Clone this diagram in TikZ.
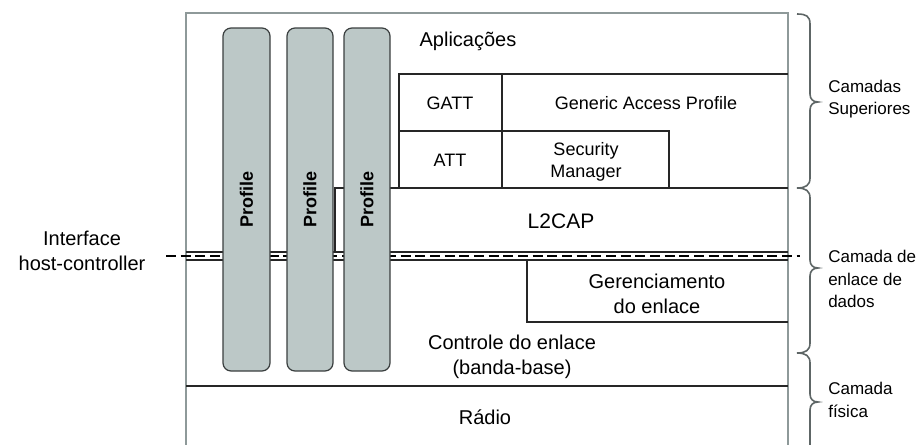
\documentclass[tikz,border=0pt]{standalone}
\usepackage{fontspec}
\setmainfont{Liberation Sans}
\definecolor{framegrey}{HTML}{8E9999}
\definecolor{bracegrey}{HTML}{5E6666}
\definecolor{profilefill}{HTML}{BCC8C7}
\definecolor{profileline}{HTML}{3A3F3F}
\begin{document}
\begin{tikzpicture}[x=0.75pt,y=-0.75pt,
  frame/.style={draw=framegrey,line width=1.5pt},
  boxline/.style={draw=black!85,line width=0.9pt},
  hcdash/.style={draw=black,line width=0.9pt,dash pattern=on 7.5pt off 3.5pt},
  profile/.style={draw=profileline,fill=profilefill,line width=0.9pt,rounded corners=6pt},
  proflabel/.style={rotate=90,font=\fontsize{13.5}{16}\selectfont\bfseries},
  lbl/.style={font=\fontsize{13.5}{16.5}\selectfont,align=center,inner sep=0pt},
  biglbl/.style={font=\fontsize{15}{18.75}\selectfont,align=center,inner sep=0pt},
  sidelbl/.style={font=\fontsize{12.75}{17}\selectfont,align=left,anchor=west,inner sep=0pt},
  bracepath/.style={draw=bracegrey,line width=1.2pt}
]
\useasboundingbox (0,0) rectangle (917,444);

% outer frame of the stack
\draw[frame] (186,450) -- (186,13) -- (788,13) -- (788,450);

% host / controller split with the interface line
\draw[boxline] (186,252) -- (788,252);
\draw[boxline] (186,260) -- (788,260);
\draw[hcdash] (166,256) -- (800,256);

% GATT / ATT / GAP / Security Manager block
\draw[boxline] (399,188) -- (399,74) -- (788,74);
\draw[boxline] (502,74) -- (502,188);
\draw[boxline] (399,131) -- (669,131) -- (669,188);

% L2CAP
\draw[boxline] (335,252) -- (335,188) -- (788,188);

% link manager
\draw[boxline] (527,260) -- (527,322) -- (788,322);

% baseband / radio split
\draw[boxline] (186,386) -- (788,386);

% profile columns
\draw[profile] (223,28) rectangle (270,371);
\draw[profile] (287,28) rectangle (333,371);
\draw[profile] (344,28) rectangle (390,371);
\node[proflabel] (prof1) at (246.5,199) {Profile};
\node[proflabel] (prof2) at (310,199) {Profile};
\node[proflabel] (prof3) at (367,199) {Profile};

% texts of the blocks
\node[biglbl] (apps) at (468,41) {Aplicações};
\node[lbl] (gatt) at (450,103) {GATT};
\node[lbl] (gap) at (646,103) {Generic Access Profile};
\node[lbl] (att) at (450,160) {ATT};
\node[lbl] (sm) at (586,162) {Security\\Manager};
\node[font=\fontsize{15.75}{18}\selectfont,inner sep=0pt] (l2cap) at (561,221) {L2CAP};
\node[biglbl] (lm) at (657,293.5) {Gerenciamento\\do enlace};
\node[biglbl] (ll) at (512,357) {Controle do enlace\\(banda-base)};
\node[biglbl] (radio) at (485,417) {Rádio};
\node[biglbl] (hci) at (82,251) {Interface\\host-controller};

% layer braces
\draw[bracepath] (797,14) .. controls (806,14) and (810,16) .. (810,24)
  -- (810,94) .. controls (810,99) and (813,102) .. (818,102)
  .. controls (813,102) and (810,105) .. (810,110)
  -- (810,178) .. controls (810,185) and (806,188) .. (797,188);
\draw[bracepath] (797,188) .. controls (806,188) and (810,191) .. (810,198)
  -- (810,260) .. controls (810,265) and (813,268) .. (818,268)
  .. controls (813,268) and (810,271) .. (810,276)
  -- (810,343) .. controls (810,350) and (806,353) .. (797,353);
\draw[bracepath] (797,353) .. controls (806,353) and (810,356) .. (810,363)
  -- (810,394) .. controls (810,399) and (813,402) .. (818,402)
  .. controls (813,402) and (810,405) .. (810,410)
  -- (810,450);

% layer names
\node[sidelbl] (upper) at (828,99) {Camadas\\Superiores};
\node[sidelbl] (link) at (828,279) {Camada de\\enlace de\\dados};
\node[sidelbl] (phy) at (828,400) {Camada\\física};
\end{tikzpicture}
\end{document}
